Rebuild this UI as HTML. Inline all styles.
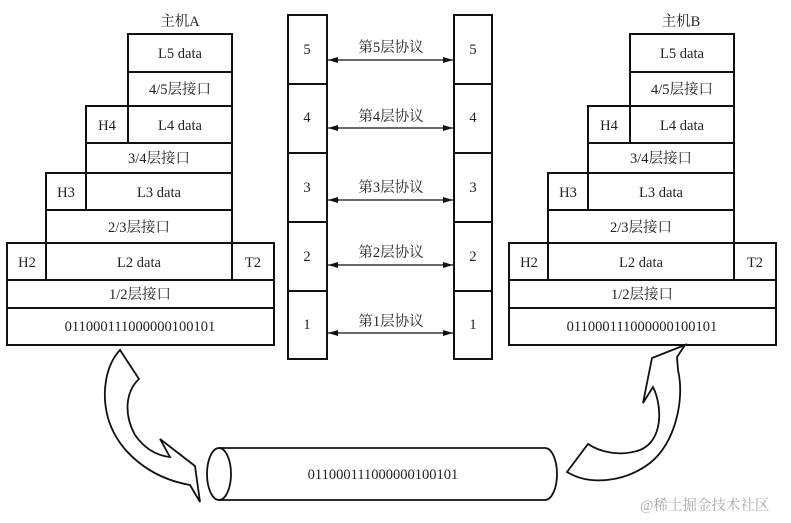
<!DOCTYPE html>
<html><head><meta charset="utf-8"><style>
body{margin:0;background:#fff}
text{font-family:"Liberation Serif","Noto Serif CJK SC",serif;font-size:14.5px;fill:#222}
</style></head><body>
<svg width="791" height="518" viewBox="0 0 791 518" xmlns="http://www.w3.org/2000/svg">
<defs>
<g id="host" fill="none" stroke="#111" stroke-width="2">
<rect x="128" y="34" width="104" height="38"/>
<rect x="128" y="72" width="104" height="34"/>
<rect x="86" y="106" width="42" height="37"/>
<rect x="128" y="106" width="104" height="37"/>
<rect x="86" y="143" width="146" height="30"/>
<rect x="46" y="173" width="40" height="37"/>
<rect x="86" y="173" width="146" height="37"/>
<rect x="46" y="210" width="186" height="33"/>
<rect x="7" y="243" width="39" height="37"/>
<rect x="46" y="243" width="186" height="37"/>
<rect x="232" y="243" width="42" height="37"/>
<rect x="7" y="280" width="267" height="28"/>
<rect x="7" y="308" width="267" height="37"/>
</g>
<g id="hosttext" text-anchor="middle">
<text x="180" y="58">L5 data</text>
<text x="180" y="94">4/5层接口</text>
<text x="107" y="130">H4</text>
<text x="180" y="130">L4 data</text>
<text x="159" y="163">3/4层接口</text>
<text x="66" y="197">H3</text>
<text x="159" y="197">L3 data</text>
<text x="139" y="232">2/3层接口</text>
<text x="27" y="267">H2</text>
<text x="139" y="267">L2 data</text>
<text x="253" y="267">T2</text>
<text x="140" y="299">1/2层接口</text>
<text x="140" y="331">011000111000000100101</text>
</g>
<marker id="ah" markerWidth="10" markerHeight="6" refX="10" refY="3" orient="auto-start-reverse" markerUnits="userSpaceOnUse"><path d="M0,0 L10,3 L0,6z" fill="#111"/></marker>
</defs>
<text x="180" y="26" text-anchor="middle">主机A</text>
<text x="681" y="26" text-anchor="middle">主机B</text>
<use href="#host"/><use href="#hosttext"/>
<g transform="translate(502,0)"><use href="#host"/><use href="#hosttext"/></g>
<g fill="none" stroke="#111" stroke-width="2">
<rect x="288" y="15" width="39" height="344"/>
<rect x="454" y="15" width="38" height="344"/>
<path d="M288 84H327M288 153H327M288 222H327M288 291H327M454 84H492M454 153H492M454 222H492M454 291H492"/>
</g>
<g stroke="#111" stroke-width="1.3" marker-start="url(#ah)" marker-end="url(#ah)">
<line x1="328" y1="60" x2="453" y2="60"/>
<line x1="328" y1="128" x2="453" y2="128"/>
<line x1="328" y1="200" x2="453" y2="200"/>
<line x1="328" y1="265" x2="453" y2="265"/>
<line x1="328" y1="333" x2="453" y2="333"/>
</g>
<g text-anchor="middle">
<text x="307" y="54">5</text><text x="473" y="54">5</text>
<text x="307" y="122">4</text><text x="473" y="122">4</text>
<text x="307" y="192">3</text><text x="473" y="192">3</text>
<text x="307" y="261">2</text><text x="473" y="261">2</text>
<text x="307" y="329">1</text><text x="473" y="329">1</text>
<text x="391" y="52" fill="#444">第5层协议</text>
<text x="391" y="121" fill="#444">第4层协议</text>
<text x="391" y="192" fill="#444">第3层协议</text>
<text x="391" y="257" fill="#444">第2层协议</text>
<text x="391" y="326" fill="#444">第1层协议</text>
</g>
<g fill="none" stroke="#111" stroke-width="1.8">
<path d="M219 448 H545 A12 26 0 0 1 545 500 H219"/>
<ellipse cx="219" cy="474" rx="12" ry="26"/>
<path d="M120 350 L139 379 C125 392 124 415 135 435 C147 452 160 456 170 457 L160 439 L195 466 L200 502 L190 485 C150 478 118 452 108 418 C101 392 106 365 120 350Z"/>
<path d="M685 345 L652 358 L643 403 L653 387 C662 405 664 440 640 450 C620 457 600 452 588 444 L567 472 C590 486 625 482 650 463 C675 443 685 400 678 370 L677 357 Z"/>
</g>
<text x="383" y="479" text-anchor="middle" font-size="13">011000111000000100101</text>
<text x="640" y="510" font-size="15" style="fill:#aaa">@稀土掘金技术社区</text>
</svg>
</body></html>
